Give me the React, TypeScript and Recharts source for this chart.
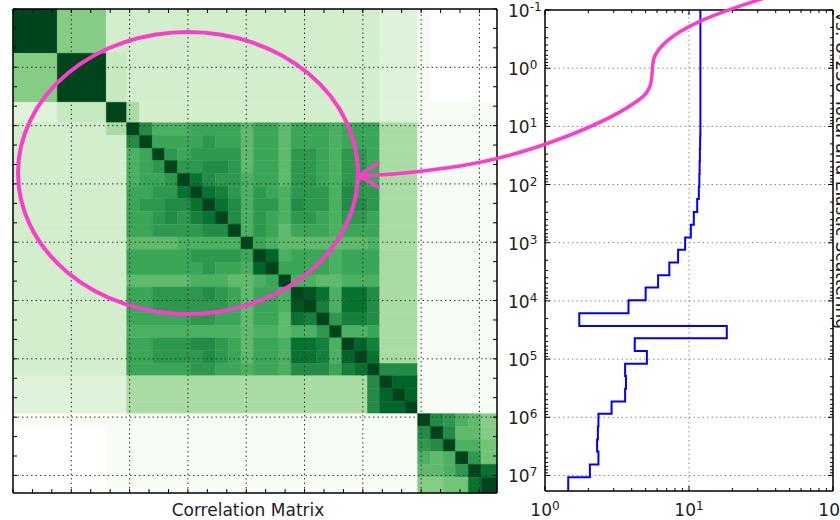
import React from "react";
import {
  ComposedChart,
  LineChart,
  Line,
  XAxis,
  YAxis,
  ReferenceArea,
  ReferenceLine,
} from "recharts";

// log10 of the energy group boundaries (eV), shared by both panels
const binEdgesLog = [
  -1, -0.24, 0.6, 0.95, 1.17, 1.39, 1.6, 1.82, 2.04, 2.25, 2.47, 2.69, 2.91,
  3.12, 3.34, 3.56, 3.77, 3.99, 4.21, 4.43, 4.64, 4.86, 5.08, 5.29, 5.51, 5.73,
  5.94, 6.16, 6.38, 6.59, 6.81, 7.03, 7.3,
];

// correlation matrix, one string per group (row 0 = lowest energy, top/left)
// "0".."k" = 0 .. 1 in steps of 0.05, "-" = below zero (drawn white)
const LEVELS = "0123456789abcdefghijk";
const corrRows = [
  "k94 4444444444 4444444444 333 0-----",
  "9k5 4444444444 4444444444 333 0-----",
  "35k 7444444444 4444444444 333 000000",
  "447 kfcccddddb ddbdddcddd 777 000000",
  "444 fkddddeddb ddbdddcddd 777 000000",
  "444 cdkedeeeeb ddbeedceed 777 000000",
  "444 cdekeeffeb ddbeedceed 777 000000",
  "444 cddekhfeec ddbeedceed 777 000000",
  "444 ddeehkhgec edceeecfee 777 000000",
  "444 deeffhkhfc eecfeecffe 777 000000",
  "444 ddefeghkfc edceedceed 777 000000",
  "444 ddeeeeffkc edbdddcddd 777 000000",
  "444 bbbbccccck dcbbbbbbbc 777 000000",
  "444 dddddeeeed kicdddcddd 777 000000",
  "444 ddddddeddc ikddddcddd 777 000000",
  "444 bbbbbcccbb cdkccbbccc 777 000000",
  "444 ddeeeefedb ddckjhchhf 777 000000",
  "444 ddeeeeeedb ddcjkgchhf 777 000000",
  "444 dddddeeddb ddbhgkeggf 777 000000",
  "444 cccccccccb ccbccekccd 777 000000",
  "444 ddeeeffedb ddchhgckig 777 000000",
  "444 ddeeeefedb ddchhgcikh 777 000000",
  "444 dddddeeddc ddcfffdghk fff 000000",
  "333 7777777777 777777777f kii 000000",
  "333 7777777777 777777777f iki 000000",
  "333 7777777777 777777777f iik 000000",
  "000 0000000000 0000000000 000 kfecb9",
  "--0 0000000000 0000000000 000 fkfbb9",
  "--0 0000000000 0000000000 000 efkcca",
  "--0 0000000000 0000000000 000 cbckea",
  "--0 0000000000 0000000000 000 bbcekh",
  "--0 0000000000 0000000000 000 99aahk",
];

// right panel: value per energy group
const groupValues = [
  12.0, 12.0, 12.0, 12.0, 11.95, 11.9, 11.85, 11.8, 11.7, 11.4, 10.8, 10.3,
  9.4, 8.4, 7.3, 6.1, 5.0, 3.8, 1.73, 18.3, 4.2, 5.1, 3.6, 3.65, 3.6, 2.9,
  2.35, 2.33, 2.3, 2.35, 2.05, 1.45,
];

const decades = [-1, 0, 1, 2, 3, 4, 5, 6, 7];
const logSubs = [1, 2, 3, 4, 5, 6, 7, 8, 9];
const heatSubs = [1, 2.154, 4.642];

const FONT = "'DejaVu Sans', sans-serif";
const PINK = "#fb3dca";

const GREENS = [
  [247, 252, 245],
  [229, 245, 224],
  [199, 233, 192],
  [161, 217, 155],
  [116, 196, 118],
  [65, 171, 93],
  [35, 139, 69],
  [0, 109, 44],
  [0, 68, 27],
];

function greens(v: number) {
  if (v < 0) return "#ffffff";
  const t = Math.min(1, v) * (GREENS.length - 1);
  const i = Math.min(GREENS.length - 2, Math.floor(t));
  const f = t - i;
  const c = GREENS[i].map((a, k) => Math.round(a + (GREENS[i + 1][k] - a) * f));
  return `rgb(${c[0]},${c[1]},${c[2]})`;
}

function cellColor(ch: string) {
  if (ch === "-") return "#ffffff";
  return greens(LEVELS.indexOf(ch) / 20);
}

// merge runs of equal cells in a row into one area
type HeatCell = { x1: number; x2: number; y1: number; y2: number; cy: number; fill: string };
const heatCells: HeatCell[] = [];
corrRows.forEach((raw, r) => {
  const row = raw.replace(/ /g, "");
  let start = 0;
  for (let c = 1; c <= row.length; c++) {
    if (c === row.length || row[c] !== row[start]) {
      heatCells.push({
        x1: 10 ** binEdgesLog[start],
        x2: 10 ** binEdgesLog[c],
        y1: 10 ** binEdgesLog[r],
        y2: 10 ** binEdgesLog[r + 1],
        cy: 10 ** ((binEdgesLog[r] + binEdgesLog[r + 1]) / 2),
        fill: cellColor(row[start]),
      });
      start = c;
    }
  }
});

const stepData = groupValues.flatMap((v, i) => [
  { energy: 10 ** binEdgesLog[i], value: v },
  { energy: 10 ** binEdgesLog[i + 1], value: v },
]);

const heatTicks = decades
  .flatMap((d) => heatSubs.map((m) => m * 10 ** d))
  .filter((v) => v <= 2e7);
const energyTicks = decades
  .flatMap((d) => logSubs.map((m) => m * 10 ** d))
  .filter((v) => v <= 1.85e7);
const valueTicks = [0, 1]
  .flatMap((d) => logSubs.map((m) => m * 10 ** d))
  .concat([100]);
const gridDecades = decades.slice(1).map((d) => 10 ** d);

type Side = "bottom" | "top" | "left" | "right";

const inwardTick =
  (side: Side, majorLen: number, minorLen: number, labels = false) =>
  (props: any) => {
    const { x, y, payload } = props;
    const lg = Math.log10(payload.value);
    const exp = Math.round(lg);
    const major = Math.abs(lg - exp) < 1e-6;
    const len = major ? majorLen : minorLen;
    const dx = side === "left" ? len : side === "right" ? -len : 0;
    const dy = side === "bottom" ? -len : side === "top" ? len : 0;
    return (
      <g>
        <line x1={x} y1={y} x2={x + dx} y2={y + dy} stroke="#000" strokeWidth={1} />
        {labels && major && side === "left" && (
          <text x={x - 37} y={y + 7} fontSize={17} fontFamily={FONT} fill="#222">
            10
            <tspan dy={-6} fontSize={12}>
              {exp}
            </tspan>
          </text>
        )}
        {labels && major && side === "bottom" && (
          <text x={x} y={y + 25} textAnchor="middle" fontSize={17} fontFamily={FONT} fill="#222">
            10
            <tspan dy={-6} fontSize={12}>
              {exp}
            </tspan>
          </text>
        )}
      </g>
    );
  };

const frameLine = { stroke: "#000", strokeWidth: 1.5 };

const axisCommon = {
  type: "number" as const,
  scale: "log" as const,
  allowDataOverflow: true,
  interval: 0 as const,
  tickSize: 0,
  tickMargin: 0,
  tickLine: false,
  axisLine: frameLine,
};

// vertical layout: energy runs top to bottom on the Y axis
const HeatMap = () => (
  <ComposedChart
    layout="vertical"
    width={500}
    height={520}
    data={heatCells}
    margin={{ top: 8, right: 2, bottom: 0, left: 12 }}
  >
    <XAxis {...axisCommon} domain={[0.1, 2e7]} ticks={heatTicks} height={27} tick={inwardTick("bottom", 4, 4)} />
    <XAxis {...axisCommon} xAxisId="top" orientation="top" domain={[0.1, 2e7]} ticks={heatTicks} height={1} tick={inwardTick("top", 4, 4)} />
    <YAxis {...axisCommon} dataKey="cy" domain={[0.1, 2e7]} ticks={heatTicks} width={1} tick={inwardTick("left", 4, 4)} />
    <YAxis {...axisCommon} yAxisId="right" orientation="right" dataKey="cy" domain={[0.1, 2e7]} ticks={heatTicks} width={1} tick={inwardTick("right", 4, 4)} />
    {heatCells.map((c, i) => (
      <ReferenceArea
        key={`c${i}`}
        x1={c.x1}
        x2={c.x2}
        y1={c.y1}
        y2={c.y2}
        fill={c.fill}
        fillOpacity={1}
        stroke={c.fill}
        strokeWidth={0.5}
        ifOverflow="visible"
      />
    ))}
    {gridDecades.map((v) => (
      <ReferenceLine key={`gx${v}`} x={v} stroke="#333" strokeWidth={1} strokeDasharray="1.5 3" />
    ))}
    {gridDecades.map((v) => (
      <ReferenceLine key={`gy${v}`} y={v} stroke="#333" strokeWidth={1} strokeDasharray="1.5 3" />
    ))}
  </ComposedChart>
);

const StepPlot = () => (
  <LineChart
    layout="vertical"
    width={340}
    height={520}
    data={stepData}
    margin={{ top: 9, right: 6, bottom: 0, left: 0 }}
  >
    <XAxis {...axisCommon} domain={[1, 100]} ticks={valueTicks} height={29} tick={inwardTick("bottom", 5, 3, true)} />
    <XAxis {...axisCommon} xAxisId="top" orientation="top" domain={[1, 100]} ticks={valueTicks} height={1} tick={inwardTick("top", 5, 3)} />
    <YAxis {...axisCommon} dataKey="energy" domain={[0.1, 1.85e7]} ticks={energyTicks} width={45} tick={inwardTick("left", 5, 3, true)} />
    <YAxis {...axisCommon} yAxisId="right" orientation="right" dataKey="energy" domain={[0.1, 1.85e7]} ticks={energyTicks} width={1} tick={inwardTick("right", 5, 3)} />
    <ReferenceLine x={10} stroke="#888" strokeWidth={1} strokeDasharray="1.5 3" />
    {gridDecades.map((v) => (
      <ReferenceLine key={`ry${v}`} y={v} stroke="#888" strokeWidth={1} strokeDasharray="1.5 3" />
    ))}
    <Line
      type="linear"
      dataKey="value"
      stroke="#0000ff"
      strokeWidth={2}
      dot={false}
      activeDot={false}
      isAnimationActive={false}
    />
  </LineChart>
);

export default function App() {
  return (
    <div style={{ position: "absolute", left: 0, top: 0, width: 840, height: 520, background: "#fff", overflow: "hidden" }}>
      <div style={{ position: "absolute", left: 0, top: 0 }}>
        <HeatMap />
      </div>
      <div style={{ position: "absolute", left: 500, top: 0 }}>
        <StepPlot />
      </div>
      <svg width={840} height={520} style={{ position: "absolute", left: 0, top: 0, pointerEvents: "none" }}>
        <text x={248} y={516} textAnchor="middle" fontSize={17} fontFamily={FONT} fill="#222">
          Correlation Matrix
        </text>
        <text x={836} y={12} transform="rotate(90 836 12)" fontSize={17} fontFamily={FONT} fill="#222">
          vs. U-238 Total and Elastic Scattering
        </text>
        <ellipse cx={188} cy={173} rx={170} ry={141} fill="none" stroke={PINK} strokeWidth={4} />
        <path
          d="M 768 -3 C 720 12, 665 30, 654 58 C 650 72, 656 88, 640 99 C 610 122, 530 155, 460 166 C 420 172, 390 175, 360 176"
          fill="none"
          stroke={PINK}
          strokeWidth={3.5}
          strokeLinecap="round"
        />
        <polyline points="378,163 359,176 378,187" fill="none" stroke={PINK} strokeWidth={3.5} strokeLinecap="round" strokeLinejoin="round" />
      </svg>
    </div>
  );
}
